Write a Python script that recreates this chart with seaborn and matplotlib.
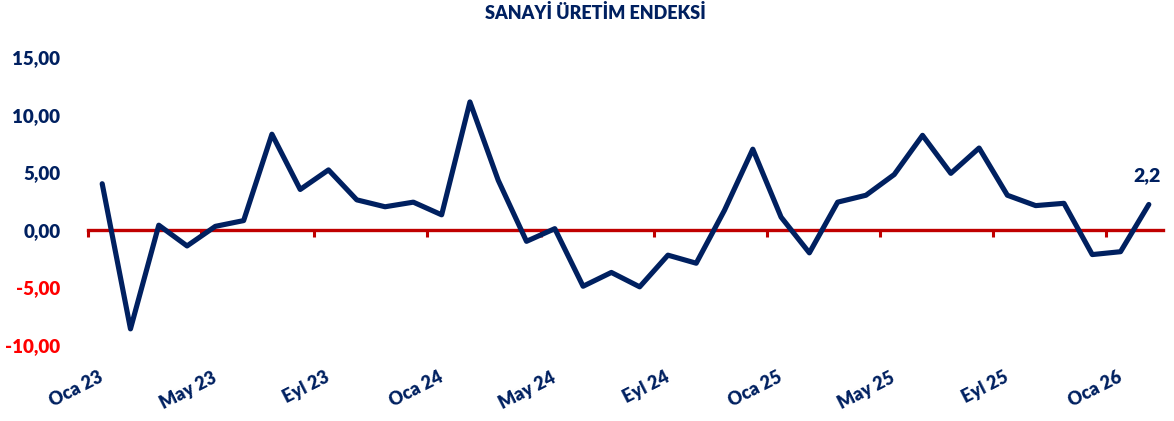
import numpy as np
import pandas as pd
import matplotlib
matplotlib.use("Agg")
import matplotlib.pyplot as plt
import matplotlib.transforms as mtransforms
from matplotlib.ticker import FuncFormatter, FixedLocator
import seaborn as sns

# monthly periods, Oca 23 .. Şub 26
month_names = ["Oca", "Şub", "Mar", "Nis", "May", "Haz", "Tem", "Ağu", "Eyl", "Eki", "Kas", "Ara"]
years = [23, 24, 25, 26]
periods = [f"{m} {y}" for y in years for m in month_names][:38]

# yearly change (%)
values = [4.0, -8.6, 0.4, -1.4, 0.3, 0.8, 8.3, 3.5, 5.2, 2.6,
          2.0, 2.4, 1.3, 11.1, 4.3, -1.0, 0.1, -4.9, -3.7, -4.95,
          -2.2, -2.9, 1.7, 7.0, 1.1, -2.0, 2.4, 3.0, 4.8, 8.2,
          4.9, 7.1, 3.0, 2.1, 2.3, -2.15, -1.9, 2.2]

y_ticks = [-10, -5, 0, 5, 10, 15]
title = "SANAYİ ÜRETİM ENDEKSİ"

navy = "#002060"
red = "#C00000"
tick_red = "#FF0000"

df = pd.DataFrame({"pos": range(len(values)), "period": periods, "value": values})

sns.set_style("white")
plt.rcParams["font.family"] = ["Lato", "DejaVu Sans"]

fig = plt.figure(figsize=(11.74, 4.21), dpi=100)
ax = fig.add_axes([0.075, 0.1805, 0.9156, 0.6841])

sns.lineplot(data=df, x="pos", y="value", color=navy, linewidth=3.7, ax=ax)

ax.set_xlim(-0.5, len(values) - 0.5)
ax.set_ylim(-10, 15)
ax.set_xlabel("")
ax.set_ylabel("")

# spines: only the red zero line
for side in ["top", "right", "left"]:
    ax.spines[side].set_visible(False)
ax.spines["bottom"].set_position(("data", 0))
ax.spines["bottom"].set_color(red)
ax.spines["bottom"].set_linewidth(2.4)
ax.spines["bottom"].set_zorder(1)

# x ticks: labels every 4 months, small red tick marks at boundaries
label_pos = df["pos"][::4].tolist()
ax.xaxis.set_major_locator(FixedLocator(label_pos))
ax.set_xticklabels(df["period"][::4], rotation=27, ha="right", va="top",
                   rotation_mode="anchor", fontsize=13, fontweight="heavy", color=navy)
ax.tick_params(axis="x", which="major", length=0, pad=100)
ax.xaxis.set_minor_locator(FixedLocator([p - 0.5 for p in label_pos]))
ax.tick_params(axis="x", which="minor", bottom=True, length=5, width=2.2,
               color=red, direction="out")
offset = mtransforms.ScaledTranslation(-4 / 100, 0, fig.dpi_scale_trans)
for lab in ax.get_xticklabels():
    lab.set_transform(lab.get_transform() + offset)

# y ticks
ax.set_yticks(y_ticks)
ax.yaxis.set_major_formatter(FuncFormatter(lambda v, p: f"{v:.2f}".replace(".", ",")))
ax.tick_params(axis="y", length=0, pad=20, labelsize=13.5)
for lab, v in zip(ax.get_yticklabels(), y_ticks):
    lab.set_fontweight("heavy")
    lab.set_color(tick_red if v < 0 else navy)

ax.grid(False)

# last value label
last = df.iloc[-1]
ax.annotate(f"{last['value']:.1f}".replace(".", ","), (last["pos"], last["value"]),
            xytext=(-1, 15), textcoords="offset points", ha="center", va="bottom",
            fontsize=14, fontweight="heavy", color=navy)

fig.suptitle(title, x=0.507, y=0.99, fontsize=13, fontweight="heavy", color=navy)

fig.savefig("out.png", dpi=100)
